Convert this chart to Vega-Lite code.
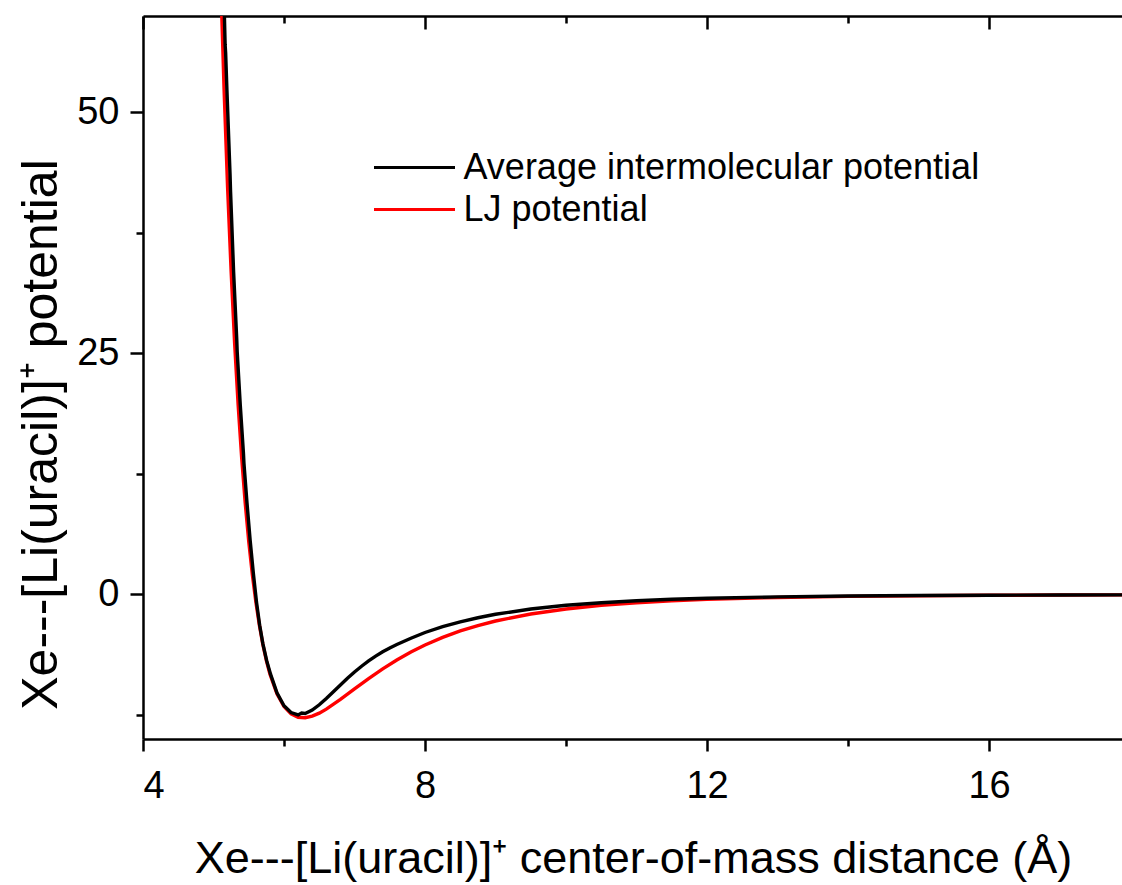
{
  "$schema": "https://vega.github.io/schema/vega-lite/v6.json",
  "width": 980,
  "height": 723,
  "autosize": {"type": "none"},
  "padding": {"left": 143, "top": 16, "right": 0, "bottom": 146},
  "background": "white",
  "config": {
    "view": {"stroke": null},
    "font": "Arial",
    "axis": {"grid": false, "domainColor": "#000000", "tickColor": "#000000", "labelColor": "#000000", "titleColor": "#000000", "domainWidth": 2.5, "tickWidth": 2.5, "labelFont": "Arial", "titleFont": "Arial", "titleFontWeight": "normal", "labelFontSize": 38, "titleFontSize": 45}
  },
  "datasets": {
    "curves": [
      {"s": "LJ potential", "r": 5.10, "v": 64.2},
      {"s": "LJ potential", "r": 5.15, "v": 52.4},
      {"s": "LJ potential", "r": 5.20, "v": 42.2},
      {"s": "LJ potential", "r": 5.25, "v": 33.5},
      {"s": "LJ potential", "r": 5.30, "v": 26.0},
      {"s": "LJ potential", "r": 5.35, "v": 19.6},
      {"s": "LJ potential", "r": 5.40, "v": 14.13},
      {"s": "LJ potential", "r": 5.45, "v": 9.46},
      {"s": "LJ potential", "r": 5.50, "v": 5.48},
      {"s": "LJ potential", "r": 5.55, "v": 2.11},
      {"s": "LJ potential", "r": 5.60, "v": -0.75},
      {"s": "LJ potential", "r": 5.65, "v": -3.16},
      {"s": "LJ potential", "r": 5.70, "v": -5.18},
      {"s": "LJ potential", "r": 5.75, "v": -6.86},
      {"s": "LJ potential", "r": 5.80, "v": -8.25},
      {"s": "LJ potential", "r": 5.90, "v": -10.32},
      {"s": "LJ potential", "r": 6.00, "v": -11.63},
      {"s": "LJ potential", "r": 6.10, "v": -12.39},
      {"s": "LJ potential", "r": 6.20, "v": -12.74},
      {"s": "LJ potential", "r": 6.30, "v": -12.79},
      {"s": "LJ potential", "r": 6.40, "v": -12.63},
      {"s": "LJ potential", "r": 6.50, "v": -12.32},
      {"s": "LJ potential", "r": 6.60, "v": -11.90},
      {"s": "LJ potential", "r": 6.80, "v": -10.90},
      {"s": "LJ potential", "r": 7.00, "v": -9.81},
      {"s": "LJ potential", "r": 7.20, "v": -8.73},
      {"s": "LJ potential", "r": 7.40, "v": -7.72},
      {"s": "LJ potential", "r": 7.60, "v": -6.80},
      {"s": "LJ potential", "r": 7.80, "v": -5.98},
      {"s": "LJ potential", "r": 8.00, "v": -5.25},
      {"s": "LJ potential", "r": 8.25, "v": -4.46},
      {"s": "LJ potential", "r": 8.50, "v": -3.79},
      {"s": "LJ potential", "r": 8.75, "v": -3.23},
      {"s": "LJ potential", "r": 9.00, "v": -2.76},
      {"s": "LJ potential", "r": 9.50, "v": -2.03},
      {"s": "LJ potential", "r": 10.0, "v": -1.51},
      {"s": "LJ potential", "r": 10.5, "v": -1.13},
      {"s": "LJ potential", "r": 11.0, "v": -0.863},
      {"s": "LJ potential", "r": 11.5, "v": -0.663},
      {"s": "LJ potential", "r": 12.0, "v": -0.515},
      {"s": "LJ potential", "r": 13.0, "v": -0.320},
      {"s": "LJ potential", "r": 14.0, "v": -0.206},
      {"s": "LJ potential", "r": 15.0, "v": -0.136},
      {"s": "LJ potential", "r": 16.0, "v": -0.093},
      {"s": "LJ potential", "r": 17.0, "v": -0.064},
      {"s": "LJ potential", "r": 17.9, "v": -0.047},
      {"s": "Average intermolecular potential", "r": 5.14, "v": 64.2},
      {"s": "Average intermolecular potential", "r": 5.165, "v": 57.0},
      {"s": "Average intermolecular potential", "r": 5.172, "v": 56.2},
      {"s": "Average intermolecular potential", "r": 5.19, "v": 52.4},
      {"s": "Average intermolecular potential", "r": 5.235, "v": 43.5},
      {"s": "Average intermolecular potential", "r": 5.242, "v": 41.8},
      {"s": "Average intermolecular potential", "r": 5.285, "v": 33.5},
      {"s": "Average intermolecular potential", "r": 5.33, "v": 26.4},
      {"s": "Average intermolecular potential", "r": 5.336, "v": 25.2},
      {"s": "Average intermolecular potential", "r": 5.38, "v": 19.6},
      {"s": "Average intermolecular potential", "r": 5.425, "v": 14.6},
      {"s": "Average intermolecular potential", "r": 5.432, "v": 13.6},
      {"s": "Average intermolecular potential", "r": 5.475, "v": 9.5},
      {"s": "Average intermolecular potential", "r": 5.52, "v": 5.6},
      {"s": "Average intermolecular potential", "r": 5.565, "v": 2.2},
      {"s": "Average intermolecular potential", "r": 5.61, "v": -0.8},
      {"s": "Average intermolecular potential", "r": 5.655, "v": -3.2},
      {"s": "Average intermolecular potential", "r": 5.70, "v": -5.1},
      {"s": "Average intermolecular potential", "r": 5.755, "v": -6.9},
      {"s": "Average intermolecular potential", "r": 5.81, "v": -8.3},
      {"s": "Average intermolecular potential", "r": 5.90, "v": -10.2},
      {"s": "Average intermolecular potential", "r": 6.00, "v": -11.55},
      {"s": "Average intermolecular potential", "r": 6.10, "v": -12.25},
      {"s": "Average intermolecular potential", "r": 6.20, "v": -12.5},
      {"s": "Average intermolecular potential", "r": 6.25, "v": -12.3},
      {"s": "Average intermolecular potential", "r": 6.30, "v": -12.35},
      {"s": "Average intermolecular potential", "r": 6.40, "v": -12.0},
      {"s": "Average intermolecular potential", "r": 6.50, "v": -11.45},
      {"s": "Average intermolecular potential", "r": 6.60, "v": -10.8},
      {"s": "Average intermolecular potential", "r": 6.70, "v": -10.1},
      {"s": "Average intermolecular potential", "r": 6.80, "v": -9.4},
      {"s": "Average intermolecular potential", "r": 6.90, "v": -8.7},
      {"s": "Average intermolecular potential", "r": 7.00, "v": -8.05},
      {"s": "Average intermolecular potential", "r": 7.10, "v": -7.45},
      {"s": "Average intermolecular potential", "r": 7.20, "v": -6.9},
      {"s": "Average intermolecular potential", "r": 7.30, "v": -6.4},
      {"s": "Average intermolecular potential", "r": 7.40, "v": -5.95},
      {"s": "Average intermolecular potential", "r": 7.50, "v": -5.55},
      {"s": "Average intermolecular potential", "r": 7.60, "v": -5.2},
      {"s": "Average intermolecular potential", "r": 7.80, "v": -4.55},
      {"s": "Average intermolecular potential", "r": 8.00, "v": -3.95},
      {"s": "Average intermolecular potential", "r": 8.25, "v": -3.35},
      {"s": "Average intermolecular potential", "r": 8.50, "v": -2.85},
      {"s": "Average intermolecular potential", "r": 8.75, "v": -2.42},
      {"s": "Average intermolecular potential", "r": 9.00, "v": -2.06},
      {"s": "Average intermolecular potential", "r": 9.50, "v": -1.52},
      {"s": "Average intermolecular potential", "r": 10.0, "v": -1.13},
      {"s": "Average intermolecular potential", "r": 10.5, "v": -0.86},
      {"s": "Average intermolecular potential", "r": 11.0, "v": -0.66},
      {"s": "Average intermolecular potential", "r": 11.5, "v": -0.51},
      {"s": "Average intermolecular potential", "r": 12.0, "v": -0.40},
      {"s": "Average intermolecular potential", "r": 13.0, "v": -0.26},
      {"s": "Average intermolecular potential", "r": 14.0, "v": -0.17},
      {"s": "Average intermolecular potential", "r": 15.0, "v": -0.12},
      {"s": "Average intermolecular potential", "r": 16.0, "v": -0.085},
      {"s": "Average intermolecular potential", "r": 17.0, "v": -0.06},
      {"s": "Average intermolecular potential", "r": 17.9, "v": -0.045}
    ]
  },
  "data": {"name": "curves"},
  "resolve": {"axis": {"x": "independent", "y": "independent"}},
  "layer": [
    {
      "mark": {"type": "line", "clip": true, "strokeWidth": 3.4},
      "encoding": {
        "x": {"field": "r", "type": "quantitative", "scale": {"domain": [4, 17.9], "nice": false, "zero": false},
              "axis": {"orient": "bottom", "values": [4, 8, 12, 16], "tickSize": 12, "labelPadding": 16, "format": "d",
                       "title": "Xe---[Li(uracil)]⁺ center-of-mass distance (Å)", "titleY": 133, "titleBaseline": "alphabetic"}},
        "y": {"field": "v", "type": "quantitative", "scale": {"domain": [-15, 60], "nice": false, "zero": false},
              "axis": {"orient": "left", "values": [0, 25, 50], "tickSize": 13, "labelPadding": 11, "format": "d",
                       "title": "Xe---[Li(uracil)]⁺ potential", "titleFontSize": 50, "titleX": -87, "titleY": 418, "titleBaseline": "alphabetic", "titleAngle": -90, "titleAlign": "center"}},
        "color": {"field": "s", "type": "nominal",
                  "scale": {"domain": ["Average intermolecular potential", "LJ potential"], "range": ["#000000", "#ff0000"]},
                  "legend": {"title": null, "orient": "none", "legendX": 247.5, "legendY": 127.5, "padding": 0,
                             "symbolType": "M-1.8,0L1.8,0", "symbolSize": 2025, "symbolStrokeWidth": 3,
                             "labelFontSize": 36, "labelFont": "Arial", "labelColor": "#000000", "labelOffset": 25, "labelLimit": 0, "rowPadding": 0}}
      }
    },
    {
      "mark": {"type": "line", "opacity": 0},
      "encoding": {
        "x": {"field": "r", "type": "quantitative", "scale": {"domain": [4, 17.9], "nice": false, "zero": false},
              "axis": {"orient": "bottom", "values": [6, 10, 14], "tickSize": 7, "labels": false, "domain": false, "title": null}},
        "y": {"field": "v", "type": "quantitative", "scale": {"domain": [-15, 60], "nice": false, "zero": false},
              "axis": {"orient": "left", "values": [-12.5, 12.5, 37.5], "tickSize": 7, "labels": false, "domain": false, "title": null}}
      }
    },
    {
      "mark": {"type": "line", "opacity": 0},
      "encoding": {
        "x": {"field": "r", "type": "quantitative", "scale": {"domain": [4, 17.9], "nice": false, "zero": false},
              "axis": {"orient": "top", "values": [4, 8, 12, 16], "tickSize": -13, "labels": false, "domain": true, "title": null}}
      }
    },
    {
      "mark": {"type": "line", "opacity": 0},
      "encoding": {
        "x": {"field": "r", "type": "quantitative", "scale": {"domain": [4, 17.9], "nice": false, "zero": false},
              "axis": {"orient": "top", "values": [6, 10, 14], "tickSize": -7, "labels": false, "domain": false, "title": null}}
      }
    }
  ]
}
